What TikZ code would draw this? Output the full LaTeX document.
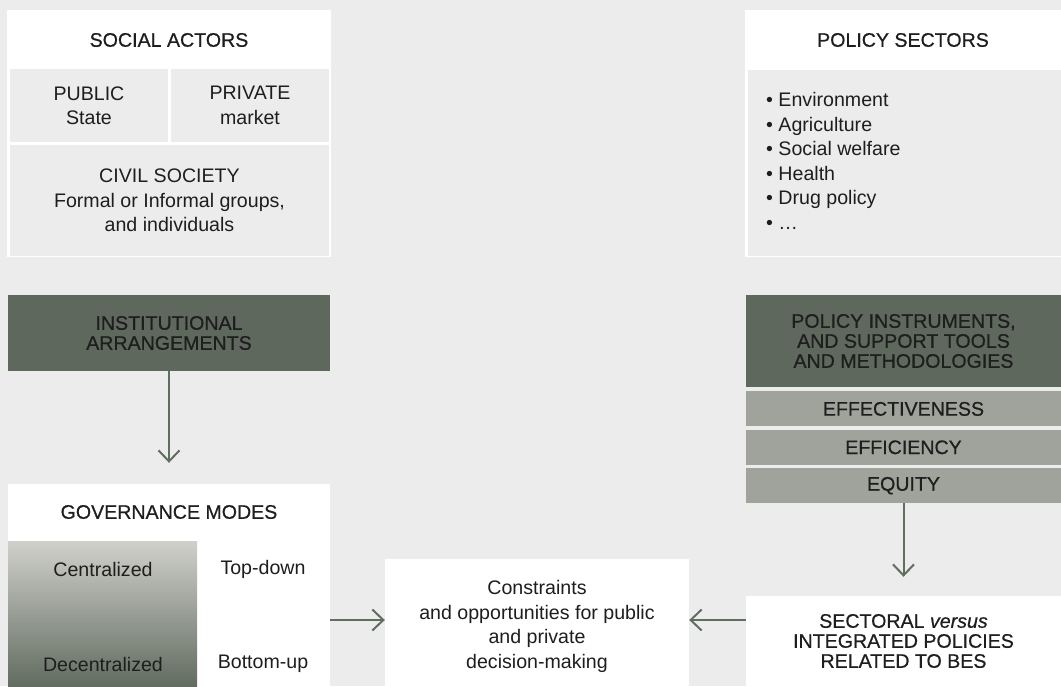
\documentclass[tikz,border=0pt]{standalone}
\usepackage{fontspec}
\setmainfont{Liberation Sans}
\newfontfamily\titlefamily{Liberation Sans}[FakeBold=0.6]
\usepackage{tikz}
\usetikzlibrary{positioning,arrows.meta}
\definecolor{pagebg}{RGB}{236,236,236}
\definecolor{cellfill}{RGB}{236,236,236}
\definecolor{darkfill}{RGB}{94,104,92}
\definecolor{bandfill}{RGB}{160,163,156}
\definecolor{gradtop}{RGB}{208,208,203}
\definecolor{gradbot}{RGB}{98,108,96}
\definecolor{arrowline}{RGB}{96,110,96}
\definecolor{textdark}{RGB}{30,30,30}
\newcommand{\bodyfont}{\fontsize{19.6}{24.5}\selectfont}
\newcommand{\capsfont}{\titlefamily\fontsize{19.6}{20}\selectfont}

\begin{document}
\begin{tikzpicture}[
    x=1pt,y=-1pt,
    font=\bodyfont,
    every node/.style={text=textdark,inner sep=0pt},
    panel/.style={fill=white},
    title/.style={font=\capsfont},
    cell/.style={fill=cellfill,align=center},
    darkbox/.style={fill=darkfill,align=center,font=\capsfont},
    band/.style={fill=bandfill,font=\capsfont,minimum width=315pt,minimum height=35pt},
    flow/.style={-{Straight Barb[length=11pt,width=21pt]},draw=arrowline,line width=2pt},
]
\useasboundingbox (0,0) rectangle (1061,686);
\fill[pagebg] (0,0) rectangle (1061,686);

% --- social actors ---
\node[panel,minimum width=324pt,minimum height=247pt] (actors) at (169,133.5) {};
\node[title] (actorstitle) at (169,40) {SOCIAL ACTORS};
\node[cell,minimum width=158pt,minimum height=73pt] (pub)  at (89,105.5)  {PUBLIC\\State};
\node[cell,minimum width=158pt,minimum height=73pt] (priv) at (250,105.5) {PRIVATE\\market};
\node[cell,minimum width=319pt,minimum height=111pt] (civil) at (169.5,200.5)
   {CIVIL SOCIETY\\Formal or Informal groups,\\and individuals};

% --- policy sectors ---
\node[panel,minimum width=316pt,minimum height=247pt] (sectors) at (903,133.5) {};
\node[title] (sectorstitle) at (903,40) {POLICY SECTORS};
\node[cell,minimum width=313pt,minimum height=186pt] (sectlist) at (904.5,163) {};
\node[anchor=west,align=left] (items) at (766,161)
   {• Environment\\• Agriculture\\• Social welfare\\• Health\\• Drug policy\\• …};

% --- left column ---
\node[darkbox,minimum width=322pt,minimum height=76pt] (inst) at (169,333)
   {INSTITUTIONAL\\ARRANGEMENTS};
\node[panel,minimum width=322pt,minimum height=202pt] (gov) at (169,585) {};
\node[title] (govtitle) at (169,512) {GOVERNANCE MODES};
\node[top color=gradtop,bottom color=gradbot,minimum width=189pt,minimum height=145pt]
   (grad) at (102.5,613.5) {};
\node (central)   at (103,569) {Centralized};
\node (decentral) at (103,664) {Decentralized};
\node (topdown)   at (263,569) {Top-down};
\node (bottomup)  at (263,664) {Bottom-up};

% --- centre box ---
\node[panel,minimum width=304pt,minimum height=127pt] (con) at (537,622.5) {};
\node[align=center] (context) at (537,626.5)
   {Constraints\\and opportunities for public\\and private\\decision-making};

% --- right column ---
\node[darkbox,minimum width=315pt,minimum height=92pt] (instr) at (903.5,341)
   {POLICY INSTRUMENTS,\\AND SUPPORT TOOLS\\AND METHODOLOGIES};
\node[band,below=4pt of instr]  (effect)  {EFFECTIVENESS};
\node[band,below=3pt of effect] (effic)   {EFFICIENCY};
\node[band,below=3pt of effic]  (equity)  {EQUITY};
\node[panel,align=center,font=\capsfont,minimum width=315pt,minimum height=90pt] (sect)
   at (903.5,641) {SECTORAL {\bodyfont\itshape versus}\\INTEGRATED POLICIES\\RELATED TO BES};

% arrows
\draw[flow,shorten >=21pt] (inst) -- (gov);
\draw[flow,shorten >=19pt] (equity) -- (sect);
\draw[flow] ([yshift=2.5pt]con.west -| gov.east) -- ([yshift=2.5pt]con.west);
\draw[flow] ([yshift=2.5pt]con.east -| sect.west) -- ([yshift=2.5pt]con.east);
\end{tikzpicture}
\end{document}
